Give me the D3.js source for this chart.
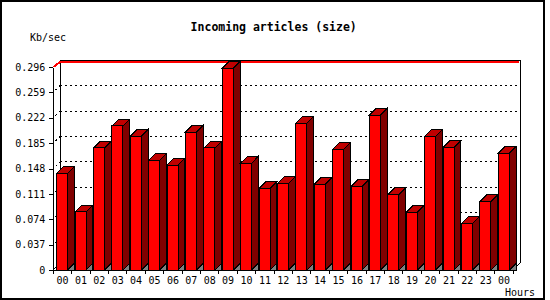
<!DOCTYPE html>
<html>
<head>
<meta charset="utf-8">
<script src="https://cdn.jsdelivr.net/npm/d3@7"></script>
<style>
    body { margin: 0; background: #fff; }
    svg { display: block; }
    .mono { font-family: "DejaVu Sans Mono", monospace; }
</style>
</head>
<body>
<div id="chart"></div>
<script>
// hourly values (Kb/sec)
const hours = ["00", "01", "02", "03", "04", "05", "06", "07", "08", "09", "10", "11",
    "12", "13", "14", "15", "16", "17", "18", "19", "20", "21", "22", "23", "00"];
const sizeKb = [0.141, 0.085, 0.178, 0.210, 0.195, 0.160, 0.153, 0.201, 0.178, 0.294, 0.156, 0.119,
    0.126, 0.214, 0.125, 0.176, 0.122, 0.226, 0.110, 0.084, 0.195, 0.179, 0.068, 0.100, 0.170];
const yTicks = [0, 0.037, 0.074, 0.111, 0.148, 0.185, 0.222, 0.259, 0.296];
const yTickLabels = ["0", "0.037", "0.074", "0.111", "0.148", "0.185", "0.222", "0.259", "0.296"];

const width = 550, height = 300;
const plot = { left: 53.3, right: 513.3, top: 67, bottom: 270 };
const depth = 6.7;      // 3d offset
const barOffset = 3.4;  // front face inset inside its slot
const barWidth = 11;

const svg = d3.select("#chart").append("svg")
    .attr("width", width)
    .attr("height", height)
    .style("shape-rendering", "crispEdges");

// outer frame
svg.append("rect")
    .attr("x", 1).attr("y", 1)
    .attr("width", 543).attr("height", 298)
    .attr("fill", "none")
    .attr("stroke", "#000")
    .attr("stroke-width", 2);

// scales
const x = d3.scaleBand()
    .domain(d3.range(hours.length))
    .range([plot.left, plot.right])
    .padding(0);
const y = d3.scaleLinear()
    .domain([0, yTicks[yTicks.length - 1]])
    .range([plot.bottom, plot.top]);

const backLeft = plot.left + depth, backRight = plot.right + depth;
const backTop = y(yTicks[yTicks.length - 1]) - depth, backBottom = plot.bottom - depth;

// dotted gridlines on back wall + left wall
yTicks.forEach((t, i) => {
    if (i === 0 || i === yTicks.length - 1) return;
    const gy = y(t) - depth;
    svg.append("line")
        .attr("x1", backLeft).attr("x2", backRight)
        .attr("y1", gy).attr("y2", gy)
        .attr("stroke", "#000")
        .attr("stroke-dasharray", "2,3");
    svg.append("line")
        .attr("x1", plot.left).attr("y1", y(t))
        .attr("x2", backLeft).attr("y2", gy)
        .attr("stroke", "#000")
        .attr("stroke-dasharray", "2,3")
        .attr("stroke-dashoffset", -3);
});

// back wall frame
svg.append("path")
    .attr("d", `M${backLeft},${backBottom}V${backTop}H${backRight}V${backBottom}`)
    .attr("fill", "none")
    .attr("stroke", "#000");

// top gridline drawn in red, just under the frame
const topY = y(yTicks[yTicks.length - 1]);
svg.append("path")
    .attr("d", `M${plot.left},${topY}L${backLeft},${backTop + 1.7}H${backRight - 1}`)
    .attr("fill", "none")
    .attr("stroke", "#f00")
    .attr("stroke-width", 2);

// floor edges
svg.append("path")
    .attr("d", `M${plot.left},${plot.bottom}L${backLeft},${backBottom}M${plot.right},${plot.bottom}L${backRight},${backBottom}`)
    .attr("fill", "none")
    .attr("stroke", "#000");

// bars
const bars = svg.selectAll(".bar")
    .data(sizeKb)
    .enter()
    .append("g")
    .attr("class", "bar");

bars.each(function (d, i) {
    const g = d3.select(this);
    const x0 = x(i) + barOffset, x1 = x0 + barWidth;
    const yt = y(d), yb = y(0);
    // floor shadow
    g.append("path")
        .attr("d", `M${x1},${yb}L${x1 + depth},${yb - depth}L${x1 + depth},${yb}Z`)
        .attr("fill", "#808080")
        .attr("stroke", "#000");
    // side face
    g.append("path")
        .attr("d", `M${x1},${yt}L${x1 + depth},${yt - depth}L${x1 + depth},${yb - depth}L${x1},${yb}Z`)
        .attr("fill", "#800000")
        .attr("stroke", "#000");
    // top face
    g.append("path")
        .attr("d", `M${x0},${yt}L${x0 + depth},${yt - depth}L${x1 + depth},${yt - depth}L${x1},${yt}Z`)
        .attr("fill", "#c00000")
        .attr("stroke", "#000");
    // front face
    g.append("rect")
        .attr("x", x0).attr("y", yt)
        .attr("width", barWidth).attr("height", yb - yt)
        .attr("fill", "#ff0000")
        .attr("stroke", "#000");
});

// y axis
svg.append("g")
    .attr("transform", `translate(${plot.left},0)`)
    .call(d3.axisLeft(y)
        .tickValues(yTicks)
        .tickFormat((d, i) => yTickLabels[i])
        .tickSizeInner(4)
        .tickSizeOuter(0)
        .tickPadding(4))
    .call(g => g.attr("font-family", "DejaVu Sans Mono, monospace").attr("font-size", 10))
    .call(g => g.selectAll("text").attr("fill", "#000"));

// x axis: labels centred in slots, ticks on slot boundaries
svg.append("g")
    .attr("transform", `translate(0,${plot.bottom})`)
    .call(d3.axisBottom(x)
        .tickFormat(i => hours[i])
        .tickSizeInner(0)
        .tickSizeOuter(0)
        .tickPadding(6.4))
    .call(g => g.attr("font-family", "DejaVu Sans Mono, monospace").attr("font-size", 10))
    .call(g => g.selectAll("text").attr("fill", "#000"));

svg.append("g")
    .selectAll("line")
    .data(d3.range(hours.length + 1))
    .enter()
    .append("line")
    .attr("x1", i => plot.left + i * x.step())
    .attr("x2", i => plot.left + i * x.step())
    .attr("y1", plot.bottom)
    .attr("y2", plot.bottom + 4)
    .attr("stroke", "#000");

// title and axis labels
svg.append("text")
    .attr("class", "mono")
    .attr("x", 273.7)
    .attr("y", 31)
    .attr("text-anchor", "middle")
    .attr("font-size", "11.5px")
    .attr("font-weight", "bold")
    .text("Incoming articles (size)");

svg.append("text")
    .attr("class", "mono")
    .attr("x", 30)
    .attr("y", 40.5)
    .attr("font-size", "10px")
    .text("Kb/sec");

svg.append("text")
    .attr("class", "mono")
    .attr("x", 505)
    .attr("y", 296)
    .attr("font-size", "10px")
    .text("Hours");
</script>
</body>
</html>
